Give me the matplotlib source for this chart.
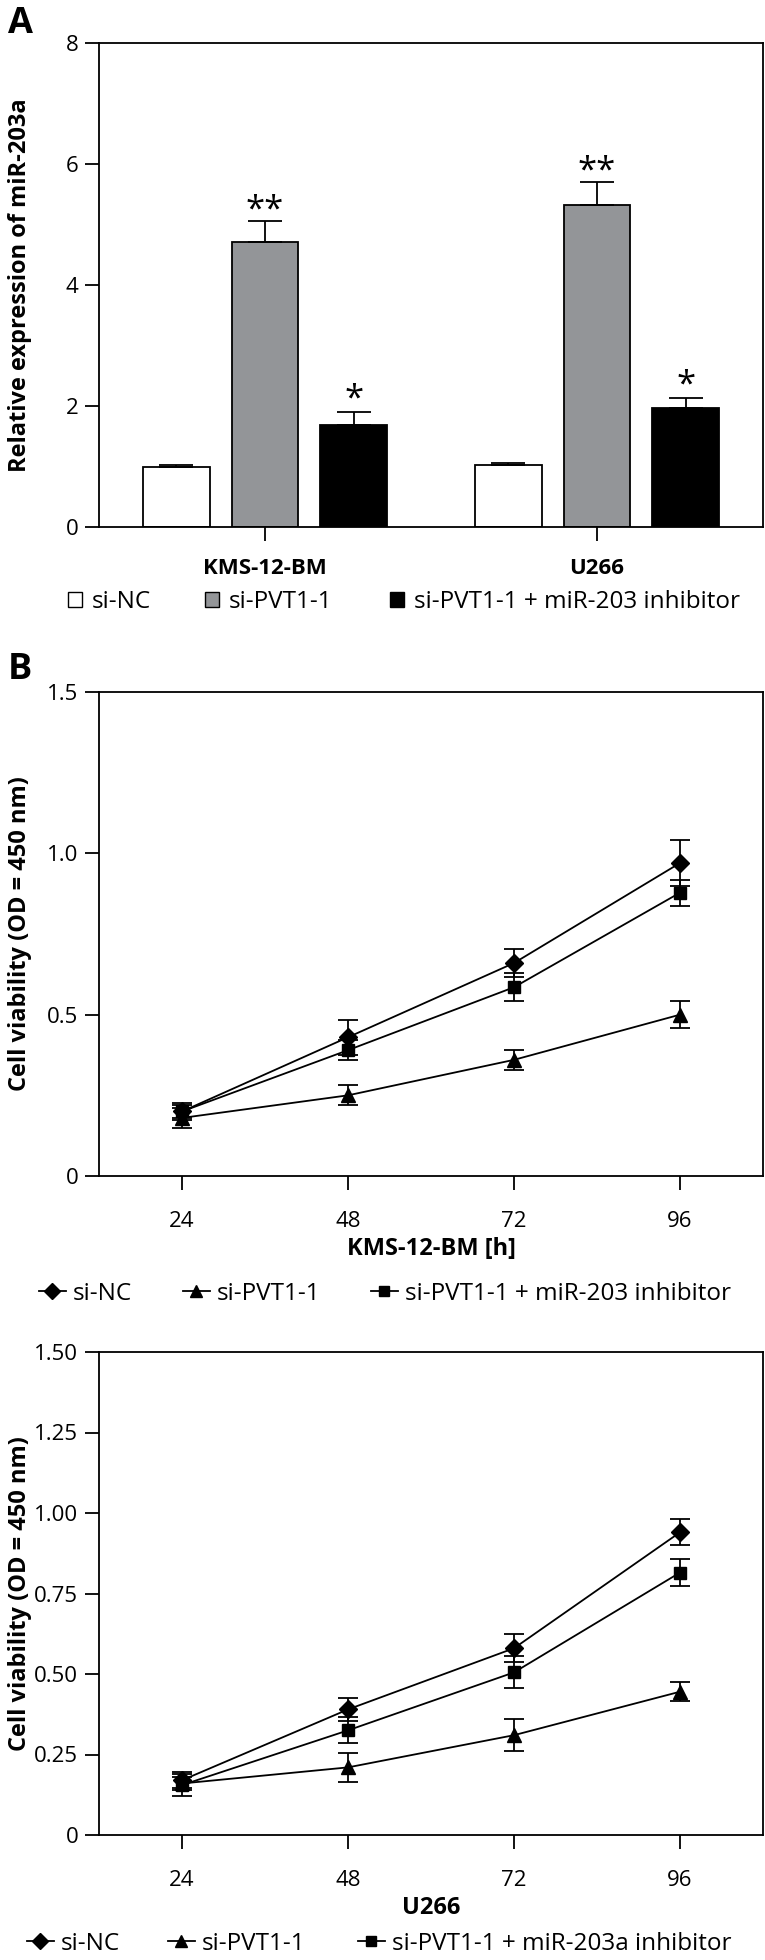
import numpy as np
import matplotlib
matplotlib.use('Agg')
import matplotlib.pyplot as plt
from matplotlib.patches import Patch
from matplotlib.lines import Line2D

plt.rcParams['font.family'] = ['Open Sans', 'DejaVu Sans']

# panel A data
groups = ['KMS-12-BM', 'U266']
nc_mean = [1.00, 1.03]
nc_err = [0.02, 0.02]
pvt_mean = [4.71, 5.33]
pvt_err = [0.35, 0.37]
inh_mean = [1.69, 1.97]
inh_err = [0.21, 0.16]
pvt_stars = ['**', '**']
inh_stars = ['*', '*']
bar_names = ['si-NC', 'si-PVT1-1', 'si-PVT1-1 + miR-203 inhibitor']

# panel B data
hours = [24, 48, 72, 96]
kms_nc = [0.20, 0.43, 0.66, 0.97]
kms_nc_err = [0.026, 0.054, 0.042, 0.07]
kms_pvt = [0.18, 0.25, 0.36, 0.50]
kms_pvt_err = [0.03, 0.031, 0.032, 0.042]
kms_inh = [0.20, 0.39, 0.585, 0.878]
kms_inh_err = [0.02, 0.03, 0.043, 0.04]

u_nc = [0.17, 0.39, 0.58, 0.94]
u_nc_err = [0.025, 0.037, 0.043, 0.04]
u_pvt = [0.16, 0.21, 0.31, 0.445]
u_pvt_err = [0.02, 0.045, 0.05, 0.03]
u_inh = [0.155, 0.325, 0.505, 0.815]
u_inh_err = [0.035, 0.04, 0.05, 0.043]

W, H = 765, 1960
fig = plt.figure(figsize=(W / 100, H / 100), dpi=100)


def box(x0, x1, top, bottom):
    return [x0 / W, 1 - bottom / H, (x1 - x0) / W, (bottom - top) / H]


tick_fs = 16
leg_fs = 17.5
lab_fs = 17


def style(ax):
    for s in ax.spines.values():
        s.set_linewidth(1.3)
    ax.tick_params(direction='out', length=10, width=1.3, labelsize=tick_fs, pad=5)


def legend_row(handles, names, xs, y, hl, hh, pad):
    # one legend per entry so each sits where the reference puts it
    for h, n, x0 in zip(handles, names, xs):
        fig.legend([h], [n], loc='center left', bbox_to_anchor=(x0 / W, 1 - y / H),
                   frameon=False, fontsize=leg_fs, handlelength=hl, handleheight=hh,
                   handletextpad=pad, borderpad=0, borderaxespad=0)


# ---- A: bars
axA = fig.add_axes(box(99, 763, 43, 527))
x = np.arange(len(groups))
w = 0.2
off = 0.267
ekw = dict(elinewidth=1.3, capthick=1.3)
axA.bar(x - off, nc_mean, w, yerr=[[0, 0], nc_err], color='white', edgecolor='black',
        linewidth=1.3, capsize=12, error_kw=ekw)
axA.bar(x, pvt_mean, w, yerr=[[0, 0], pvt_err], color='#939598', edgecolor='black',
        linewidth=1.3, capsize=12, error_kw=ekw)
axA.bar(x + off, inh_mean, w, yerr=[[0, 0], inh_err], color='black', edgecolor='black',
        linewidth=1.3, capsize=12, error_kw=ekw)
for i in range(len(groups)):
    axA.text(x[i], pvt_mean[i] + pvt_err[i] + 0.03, pvt_stars[i], ha='center', va='baseline',
             fontsize=25)
    axA.text(x[i] + off, inh_mean[i] + inh_err[i] + 0.06, inh_stars[i], ha='center', va='baseline',
             fontsize=25)
axA.set_xlim(-0.5, 1.5)
axA.set_ylim(0, 8)
axA.set_yticks([0, 2, 4, 6, 8])
axA.set_xticks(x)
axA.set_xticklabels(groups, fontweight='bold', fontsize=lab_fs)
style(axA)
axA.tick_params(axis='x', pad=12)
axA.set_ylabel('Relative expression of miR-203a', fontweight='bold', fontsize=17)
axA.yaxis.set_label_coords(-0.101, 0.5)
bar_handles = [Patch(facecolor=c, edgecolor='black', linewidth=1) for c in ['white', '#939598', 'black']]
legend_row(bar_handles, bar_names, [68, 205, 390], 602, 0.58, 0.62, 0.41)
fig.text(8 / W, 1 - 6 / H, 'A', fontsize=26, fontweight='bold', va='top')
fig.text(8 / W, 1 - 652 / H, 'B', fontsize=26, fontweight='bold', va='top')


# ---- B: lines
def line_panel(ax, nc, nce, pvt, pvte, inh, inhe):
    kw = dict(color='black', linewidth=1.3, capsize=7, elinewidth=1.3, capthick=1.3)
    ax.errorbar(hours, pvt, yerr=pvte, marker='^', markersize=10, **kw)
    ax.errorbar(hours, inh, yerr=inhe, marker='s', markersize=9, **kw)
    ax.errorbar(hours, nc, yerr=nce, marker='D', markersize=9.5, **kw)
    ax.set_xlim(12, 108)
    ax.set_xticks(hours)
    style(ax)
    ax.tick_params(axis='x', pad=15)
    ax.set_ylabel('Cell viability (OD = 450 nm)', fontweight='bold', fontsize=lab_fs)
    ax.yaxis.set_label_coords(-0.101, 0.5)


line_handles = [Line2D([0], [0], color='black', linewidth=1.3, marker=m, markersize=ms)
                for m, ms in [('D', 8.5), ('^', 8.5), ('s', 7.5)]]

axB1 = fig.add_axes(box(99, 763, 692, 1176))
line_panel(axB1, kms_nc, kms_nc_err, kms_pvt, kms_pvt_err, kms_inh, kms_inh_err)
axB1.set_ylim(0, 1.5)
axB1.set_yticks([0, 0.5, 1.0, 1.5])
axB1.set_yticklabels(['0', '0.5', '1.0', '1.5'])
axB1.set_xlabel('KMS-12-BM [h]', fontweight='bold', fontsize=lab_fs, labelpad=4)
legend_row(line_handles, ['si-NC', 'si-PVT1-1', 'si-PVT1-1 + miR-203 inhibitor'],
           [39, 183, 371], 1294, 1.11, 0.7, 0.29)

axB2 = fig.add_axes(box(99, 763, 1352, 1835))
line_panel(axB2, u_nc, u_nc_err, u_pvt, u_pvt_err, u_inh, u_inh_err)
axB2.set_ylim(0, 1.5)
axB2.set_yticks([0, 0.25, 0.5, 0.75, 1.0, 1.25, 1.5])
axB2.set_yticklabels(['0', '0.25', '0.50', '0.75', '1.00', '1.25', '1.50'])
axB2.set_xlabel('U266', fontweight='bold', fontsize=lab_fs, labelpad=4)
legend_row(line_handles, ['si-NC', 'si-PVT1-1', 'si-PVT1-1 + miR-203a inhibitor'],
           [27, 168, 358], 1944, 1.11, 0.7, 0.29)

fig.savefig('out.png', dpi=100)
